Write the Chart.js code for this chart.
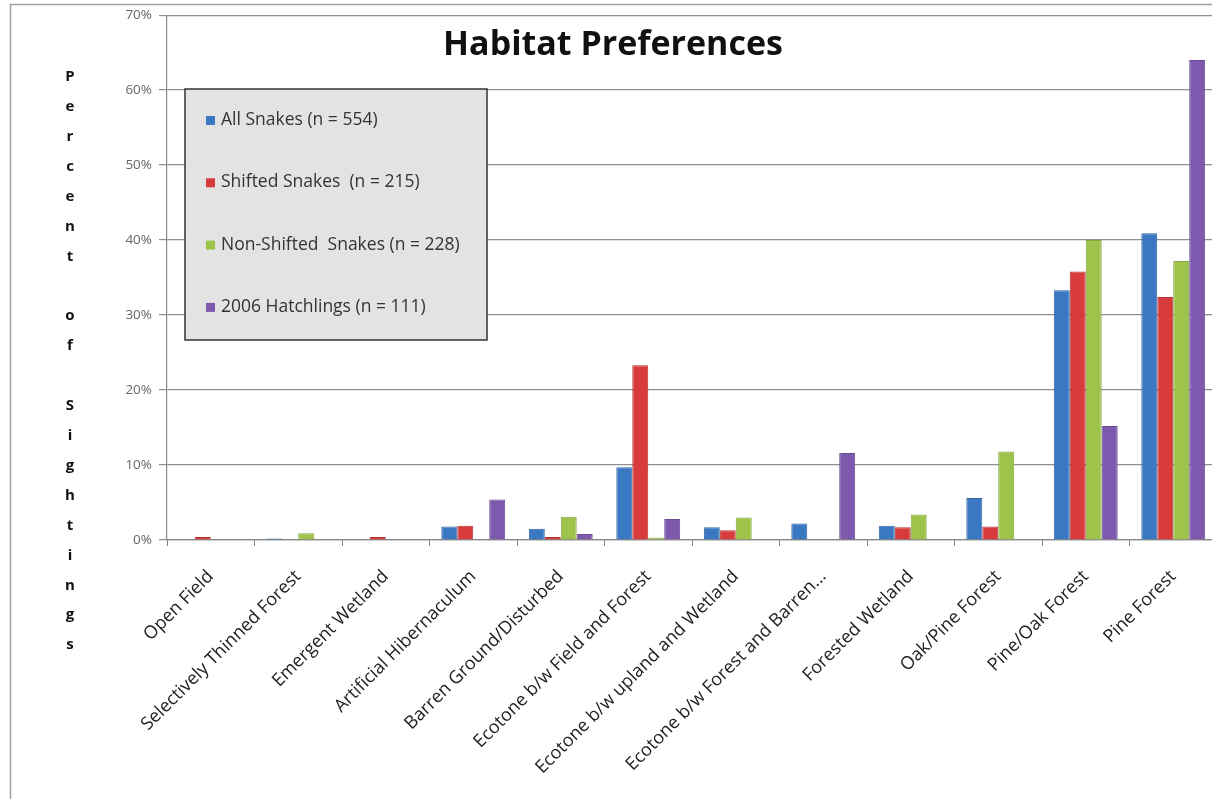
<!DOCTYPE html>
<html>
<head>
<meta charset="utf-8">
<script src="https://cdn.jsdelivr.net/npm/chart.js@4.4.1/dist/chart.umd.min.js"></script>
<style>
  html, body { margin: 0; padding: 0; background: #ffffff; overflow: hidden; }
  #wrap { position: relative; width: 1222px; height: 799px; }
</style>
</head>
<body>
<div id="wrap"><canvas id="c" width="1222" height="799"></canvas></div>
<script>
const chartTitle = 'Habitat Preferences';
const yAxisTitle = 'Percent of Sightings';
const categories = [
  'Open Field',
  'Selectively Thinned Forest',
  'Emergent Wetland',
  'Artificial Hibernaculum',
  'Barren Ground/Disturbed',
  'Ecotone b/w Field and Forest',
  'Ecotone b/w upland and Wetland',
  'Ecotone b/w Forest and Barren...',
  'Forested Wetland',
  'Oak/Pine Forest',
  'Pine/Oak Forest',
  'Pine Forest'
];
const seriesNames = [
  'All Snakes (n = 554)',
  'Shifted Snakes  (n = 215)',
  'Non-Shifted  Snakes (n = 228)',
  '2006 Hatchlings (n = 111)'
];
const allSnakes      = [0,   0.2, 0,   1.8, 1.5, 9.7,  1.7, 2.2,  1.9, 5.6,  33.3, 40.9];
const shiftedSnakes  = [0.4, 0,   0.4, 1.9, 0.4, 23.3, 1.3, 0,    1.7, 1.8,  35.8, 32.4];
const nonShifted     = [0,   0.9, 0,   0,   3.1, 0.35, 3.0, 0,    3.4, 11.8, 40.0, 37.2];
const hatchlings2006 = [0,   0,   0,   5.4, 0.8, 2.8,  0,   11.6, 0,   0,    15.2, 64.0];
const yTicks = [0, 10, 20, 30, 40, 50, 60, 70];

const fills   = ['#3B78C4', '#D83B3B', '#9DC34B', '#7D5AAE'];
const borders = ['#33689F', '#B53434', '#86A840', '#6A4C95'];
const seriesValues = [allSnakes, shiftedSnakes, nonShifted, hatchlings2006];

const FONT = '"Open Sans", Lato, "DejaVu Sans", sans-serif';

const overlay = {
  id: 'overlay',
  beforeDraw(chart) {
    const ctx = chart.ctx;
    ctx.save();
    ctx.fillStyle = '#ffffff';
    ctx.fillRect(0, 0, chart.width, chart.height);
    ctx.strokeStyle = '#a0a0a0';
    ctx.lineWidth = 1.5;
    ctx.beginPath();
    ctx.moveTo(10.5, chart.height);
    ctx.lineTo(10.5, 4.5);
    ctx.lineTo(chart.width, 4.5);
    ctx.stroke();
    ctx.restore();
  },
  afterDraw(chart) {
    const ctx = chart.ctx;
    ctx.save();
    // title
    ctx.fillStyle = '#111111';
    ctx.font = 'bold 34px ' + FONT;
    ctx.textAlign = 'center';
    ctx.textBaseline = 'alphabetic';
    ctx.fillText(chartTitle, 613, 55);
    // stacked y-axis title
    ctx.font = 'bold 15px ' + FONT;
    ctx.textBaseline = 'middle';
    ctx.fillStyle = '#111111';
    yAxisTitle.split('').forEach((ch, i) => {
      if (ch !== ' ') ctx.fillText(ch, 70, 77 + i * 29.9);
    });
    // legend box
    const lx = 185, ly = 89, lw = 302, lh = 251;
    ctx.fillStyle = '#e3e3e3';
    ctx.fillRect(lx, ly, lw, lh);
    ctx.strokeStyle = '#333333';
    ctx.lineWidth = 1.5;
    ctx.strokeRect(lx, ly, lw, lh);
    ctx.font = '17.5px ' + FONT;
    ctx.textAlign = 'left';
    ctx.textBaseline = 'middle';
    chart.data.datasets.forEach((ds, i) => {
      const yy = 120 + i * 62.3;
      ctx.fillStyle = ds.backgroundColor;
      ctx.fillRect(206, yy - 4, 9, 9);
      ctx.fillStyle = '#333333';
      ctx.fillText(ds.label, 221, yy);
    });
    ctx.restore();
  }
};

new Chart(document.getElementById('c'), {
  type: 'bar',
  data: {
    labels: categories,
    datasets: seriesNames.map((name, i) => ({
      label: name,
      data: seriesValues[i],
      backgroundColor: fills[i],
      borderColor: borders[i],
      borderWidth: 1,
      categoryPercentage: 0.73,
      barPercentage: 1.0
    }))
  },
  options: {
    responsive: false,
    animation: false,
    layout: { padding: { top: 15, right: 5, left: 0, bottom: 0 } },
    plugins: {
      legend: { display: false },
      title: { display: false },
      tooltip: { enabled: false }
    },
    scales: {
      x: {
        afterFit(scale) { scale.height = 259; },
        grid: {
          offset: true,
          drawOnChartArea: false,
          drawTicks: true,
          tickLength: 6,
          color: '#888888'
        },
        border: { display: true, color: '#888888', width: 1.2 },
        ticks: {
          autoSkip: false,
          maxRotation: 45,
          minRotation: 45,
          padding: 20,
          labelOffset: 0,
          color: '#222222',
          font: { family: FONT, size: 18 }
        }
      },
      y: {
        min: 0,
        max: 70,
        afterFit(scale) { scale.width = 167; },
        afterBuildTicks(scale) { scale.ticks = yTicks.map(v => ({ value: v })); },
        grid: {
          color: '#8f8f8f',
          lineWidth: 1.2,
          tickLength: 8
        },
        border: { display: true, color: '#888888', width: 1.2 },
        ticks: {
          padding: 7,
          color: '#666666',
          font: { family: FONT, size: 13.5 },
          callback: v => v + '%'
        }
      }
    }
  },
  plugins: [overlay]
});
</script>
</body>
</html>
